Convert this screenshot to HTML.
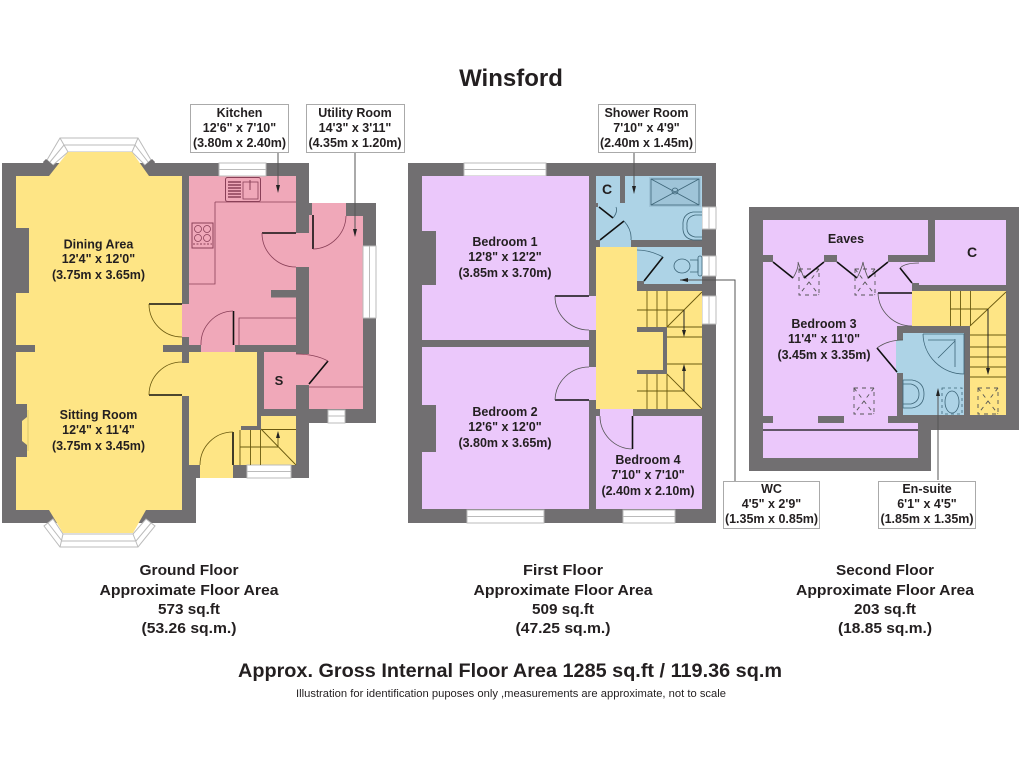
<!DOCTYPE html>
<html><head><meta charset="utf-8"><title>Winsford</title>
<style>
html,body{margin:0;padding:0;background:#fff}
svg{display:block}
text{font-family:"Liberation Sans",sans-serif;font-weight:bold;fill:#231f20;text-anchor:middle;font-size:12.5px}
.f{font-size:15px}
.w{fill:#716f71}
.y{fill:#fee585}.p{fill:#f0a8b9}.v{fill:#ebc8fb}.b{fill:#add3e6}
.win{fill:#fff;stroke:#bbb;stroke-width:1}
.d{stroke:#111;stroke-width:1.6;fill:none}
.a{stroke:#555;stroke-width:.8;fill:none}
.ay{stroke:#6b5a10;stroke-width:.8;fill:none}
.ap{stroke:#8a4058;stroke-width:.8;fill:none}
.s{stroke:#6b5a10;stroke-width:.9;fill:none}
.sk{stroke:#555;stroke-width:.9;fill:none;stroke-dasharray:4 4}
.box{fill:#fff;stroke:#aaa;stroke-width:1}
.l{stroke:#555;stroke-width:1;fill:none}
.fx{stroke:#3d6578;stroke-width:.8;fill:none}
</style></head><body>
<svg width="1024" height="768" viewBox="0 0 1024 768" xmlns="http://www.w3.org/2000/svg">
<rect width="1024" height="768" fill="#fff"/>

<!-- GROUND FLOOR -->
<path class="w" d="M2,163 H309 V203 H376 V423 H309 V478 H196 V523 H2 Z"/>
<!-- bay windows -->
<polygon class="win" points="47,160 60,138 138,138 151,160 145,165 132,152 68,152 53,165"/>
<path d="M50,162 L64,145 H135 L148,162 M60,138 L68,152 M138,138 L132,152" stroke="#bbb" fill="none"/>
<polygon class="w" points="43,162 46,159 55,167 49,176"/><polygon class="w" points="155,162 152,159 143,167 149,176"/>
<polygon class="win" points="44,526 60,547 138,547 155,526 146,519 133,534 63,534 53,519"/>
<path d="M48,523 L62,541 H136 L151,523 M60,547 L63,534 M138,547 L133,534" stroke="#bbb" fill="none"/>
<!-- yellow main -->
<polygon class="y" points="16,176 49,176 68,152 132,152 149,176 182,176 182,510 146,510 133,533 63,533 49,510 16,510"/>
<rect class="w" x="16" y="228" width="13" height="65"/>
<rect class="w" x="16" y="345" width="19" height="7"/>
<rect class="w" x="163" y="345" width="20" height="7"/>
<polygon class="w" points="16,404 27,404 27,417 22,421 22,441 27,445 27,457 16,457"/>
<path d="M28,410 V451" stroke="#d8c56c" fill="none"/>
<!-- kitchen pink -->
<rect class="p" x="189" y="176" width="107" height="169"/>
<rect class="p" x="182" y="304" width="8" height="33"/>
<rect class="p" x="189" y="337" width="12" height="8"/>
<rect class="p" x="201" y="345" width="34" height="7"/>
<rect class="p" x="296" y="233" width="14" height="34"/>
<rect class="win" x="219" y="163" width="47" height="13"/><path d="M219,169.5 H266" stroke="#bbb"/>
<rect class="w" x="271" y="290" width="25" height="7.5"/>
<path class="ap" d="M215,202 H296 M215,202 V284 H189 M239,345 V318 H296"/>
<!-- sink -->
<rect x="225.500" y="177.500" width="35" height="24" rx="2" fill="none" stroke="#8a4058"/>
<path d="M228,182 H241 M228,185 H241 M228,188 H241 M228,191 H241 M228,194 H241 M228,197 H241" stroke="#8a4058" stroke-width="1.4"/>
<rect x="243" y="182" width="15" height="17" fill="none" stroke="#8a4058" stroke-width=".8"/>
<path d="M250,180 V190" stroke="#8a4058"/>
<!-- hob -->
<rect x="192" y="223" width="21" height="25" fill="none" stroke="#8a4058"/>
<circle cx="198" cy="229" r="3.500" class="ap"/><circle cx="207" cy="229" r="3.500" class="ap"/><circle cx="198" cy="238" r="3.500" class="ap"/><circle cx="207" cy="238" r="3.500" class="ap"/>
<path d="M193,244 H212" stroke="#8a4058" stroke-dasharray="2 1.500"/>
<!-- utility -->
<polygon class="p" points="312,203 346,203 346,216 363,216 363,409 309,409 309,215 312,215"/>
<rect class="p" x="264" y="352" width="32" height="57"/>
<rect class="p" x="296" y="354" width="14" height="31"/>
<path class="ap" d="M309,387 H363"/>
<rect class="win" x="363" y="246" width="13" height="72"/><path d="M369.500,246 V318" stroke="#bbb"/>
<rect class="win" x="328" y="410" width="17" height="13"/><path d="M328,416 H345" stroke="#bbb"/>
<!-- hall -->
<rect class="y" x="189" y="352" width="68" height="113"/>
<rect class="y" x="182" y="363" width="8" height="33"/>
<rect class="y" x="200" y="465" width="33" height="13"/>
<rect class="y" x="240" y="430" width="56" height="35"/>
<rect class="y" x="261" y="416" width="35" height="14"/>
<rect class="w" x="241" y="426" width="20" height="4"/>
<rect class="win" x="247" y="465" width="44" height="13"/><path d="M247,471.500 H291" stroke="#bbb"/>
<path class="s" d="M240,430 V465 M250.500,430 V465 M260.500,430 V465 M240,447 H278 M261,429.500 H296 M261,429 L296,465"/>
<path class="s" d="M278,447 V435"/><polygon points="278,431 276,438 280,438" fill="#222"/>
<!-- doors ground -->
<path class="d" d="M149,304 H182 M149,395 H182 M262,233 H296 M313,215 V249 M233.500,311 V345 M233,432 V465 M309,384 L328,361"/>
<path class="ay" d="M149,304 A33,33 0 0 0 182,337 M149,395 A33,33 0 0 1 182,362 M233,432 A33,33 0 0 0 200,465"/>
<path class="ap" d="M262,233 A34,34 0 0 0 296,267 M313,249 A34,34 0 0 0 346,216 M233,311 A33,33 0 0 0 201,345 M296,354 Q315,354 328,361"/>

<!-- FIRST FLOOR -->
<rect class="w" x="408" y="163" width="308" height="360"/>
<rect class="win" x="464" y="163" width="82" height="13"/><path d="M464,169.500 H546" stroke="#bbb"/>
<rect class="win" x="467" y="510" width="77" height="13"/><path d="M467,516.500 H544" stroke="#bbb"/>
<rect class="win" x="623" y="510" width="52" height="13"/><path d="M623,516.500 H675" stroke="#bbb"/>
<rect class="win" x="702" y="207" width="14" height="22"/><path d="M709,207 V229" stroke="#bbb"/>
<rect class="win" x="702" y="256" width="14" height="20"/><path d="M709,256 V276" stroke="#bbb"/>
<rect class="win" x="702" y="296" width="14" height="28"/><path d="M709,296 V324" stroke="#bbb"/>
<rect class="v" x="422" y="176" width="167" height="164"/>
<rect class="v" x="422" y="347" width="167" height="162"/>
<rect class="w" x="422" y="231" width="14" height="54"/>
<rect class="w" x="422" y="405" width="14" height="47"/>
<rect class="v" x="589" y="296" width="8" height="34"/>
<rect class="v" x="589" y="367" width="8" height="33"/>
<!-- shower room -->
<rect class="b" x="596" y="176" width="106" height="64"/>
<rect class="b" x="600" y="240" width="31" height="8"/>
<rect class="w" x="620" y="176" width="5" height="27"/>
<rect class="w" x="596" y="203" width="2" height="4"/>
<rect x="649" y="177" width="52" height="30" fill="#9fc4d8"/>
<rect x="651" y="179" width="48" height="26" class="fx"/>
<path class="fx" d="M651,179 L699,205 M699,179 L651,205"/>
<circle cx="675" cy="191" r="3" class="fx" stroke-width="1.500"/>
<path class="fx" d="M702,212 H693 Q682,214 683,226 Q682,238 693,240 H702 M702,215 H695 Q686,217 687,226 Q686,235 695,237 H702"/>
<!-- wc -->
<rect class="b" x="637" y="247" width="65" height="37"/>
<rect class="w" x="637" y="281" width="7" height="4"/>
<ellipse class="fx" cx="682" cy="266" rx="8" ry="7"/><rect x="698" y="256" width="4" height="20" rx="2" class="fx"/>
<path class="fx" d="M690,260 H698 V272 H690"/>
<!-- landing -->
<rect class="y" x="596" y="247" width="41" height="162"/>
<rect class="y" x="637" y="331" width="26" height="40"/>
<!-- stairs -->
<rect class="y" x="637" y="291" width="65" height="36"/>
<rect class="y" x="667" y="327" width="35" height="82"/>
<rect class="y" x="637" y="374" width="30" height="35"/>
<rect class="w" x="637" y="327" width="30" height="5"/>
<rect class="w" x="663" y="327" width="4" height="47"/>
<rect class="w" x="637" y="370" width="30" height="4"/>
<path class="s" d="M647,291 V327 M657,291 V327 M667,291 V327 M637,310 H684 M667,327 L702,292 M667,327 H702 M667,337 H702 M667,364 H702 M647,374 V409 M657,374 V409 M667,374 V409 M637,391 H684 M667,374 L702,409"/>
<path d="M684,310 V330 M684,391 V370" stroke="#222" fill="none"/>
<polygon points="684,337 682,330 686,330" fill="#222"/><polygon points="684,364 682,371 686,371" fill="#222"/>
<!-- bed4 -->
<rect class="v" x="596" y="416" width="106" height="93"/>
<rect class="v" x="600" y="409" width="33" height="8"/>
<!-- doors first -->
<path class="d" d="M555,296 H589 M555,400 H589 M632.500,416 V449 M599,207 L613,218 M600,240 L624,221 M644,281 L663,257"/>
<path class="a" d="M555,296 A34,34 0 0 0 589,330 M555,400 A34,34 0 0 1 589,367 M600,416 A33,33 0 0 0 632,449"/>
<path class="fx" d="M616,207 Q618,212 613,218 M624,221 Q632,230 631,240 M663,257 Q650,250 637,250"/>

<!-- SECOND FLOOR -->
<path class="w" d="M749,207 H1019 V430 H931 V471 H749 Z"/>
<rect class="v" x="763" y="220" width="165" height="35"/>
<polygon class="v" points="935,220 1006,220 1006,285 912,285 912,283 900,262 935,262"/>
<polygon class="v" points="763,262 773,262 773,255 888,255 888,262 900,262 912,283 912,326 897,326 897,416 763,416"/>
<rect class="w" x="763" y="255" width="10" height="7"/>
<rect class="w" x="824" y="255" width="13" height="7"/>
<rect class="w" x="888" y="255" width="47" height="7"/>
<rect class="w" x="912" y="283" width="7" height="10"/>
<rect class="v" x="763" y="415" width="134" height="8"/>
<rect class="w" x="763" y="416" width="10" height="7"/>
<rect class="w" x="818" y="416" width="26" height="7"/>
<rect class="w" x="888" y="416" width="15" height="7"/>
<rect class="v" x="763" y="423" width="155" height="35"/>
<path d="M763,430 H918" stroke="#111" stroke-width="1.200"/>
<rect class="y" x="912" y="291" width="94" height="35"/>
<rect class="y" x="970" y="326" width="36" height="89"/>
<rect class="b" x="903" y="333" width="61" height="82"/>
<rect class="b" x="896" y="340" width="8" height="33"/>
<path class="fx" d="M923,334 H964 V374 A41,41 0 0 1 923,334 M928,340 H955 V367 M955,339 V367 M938,358 L955,341"/>
<path class="fx" d="M903,380 H912 Q924,382 924,394 Q924,406 912,408 H903 V380 M903,384 H911 Q919,386 919,394 Q919,402 911,404 H903"/>
<ellipse class="fx" cx="952" cy="402" rx="7" ry="11"/>
<rect x="942" y="388" width="20" height="26" class="fx" stroke-dasharray="3 3"/>
<path class="s" d="M950.500,291 V326 M960.500,291 V326 M970.500,291 V326 M950,309 H988 M970,326 L1006,292 M970,335 H1006 M970,347 H1006 M970,357 H1006 M970,367 H1006 M970,377 H1006"/>
<path d="M988,309 V370" stroke="#222" fill="none"/><polygon points="988,375 986,368 990,368" fill="#222"/>
<!-- skylights -->
<rect x="799" y="269" width="20" height="26" class="sk"/><path d="M799,269 L819,295 M819,269 L799,295" class="sk"/>
<rect x="855" y="269" width="20" height="26" class="sk"/><path d="M855,269 L875,295 M875,269 L855,295" class="sk"/>
<rect x="854" y="388" width="20" height="26" class="sk"/><path d="M854,388 L874,414 M874,388 L854,414" class="sk"/>
<rect x="978" y="388" width="20" height="26" class="sk"/><path d="M978,388 L998,414 M998,388 L978,414" class="sk"/>
<!-- doors second -->
<path class="d" d="M773,262 L793,278 M804,278 L824,262 M837,262 L857,278 M868,278 L888,262 M878,293 H912 M877,348 L897,372 M900,268 L912,283"/>
<path class="a" d="M878,293 A34,34 0 0 0 912,326 M877,348 Q888,340 903,340 M900,268 Q905,263 919,263 M793,278 Q799,268 798,262 Q800,268 804,278 M857,278 Q862,268 863,262 Q864,268 868,278"/>

<!-- LEADERS + BOXES -->
<path class="l" d="M278,153 V186 M355,153 V231 M634,152 V188 M680,280 H735 V481 M938,480 V394"/>
<polygon points="278,193 276,185 280,185" fill="#222"/>
<polygon points="355,237 353,229 357,229" fill="#222"/>
<polygon points="634,194 632,186 636,186" fill="#222"/>
<polygon points="680,280 688,278 688,282" fill="#222"/>
<polygon points="938,388 936,396 940,396" fill="#222"/>

<rect class="box" x="190.500" y="104.500" width="98" height="48"/>
<rect class="box" x="306.500" y="104.500" width="98" height="48"/>
<rect class="box" x="598.500" y="104.500" width="97" height="48"/>
<rect class="box" x="723.500" y="481.500" width="96" height="47"/>
<rect class="box" x="878.500" y="481.500" width="97" height="47"/>

<!-- TEXT -->
<text x="511" y="86" style="font-size:24px">Winsford</text>

<text x="239.500" y="117">Kitchen</text><text x="239.500" y="132">12'6" x 7'10"</text><text x="239.500" y="147">(3.80m x 2.40m)</text>
<text x="355" y="117">Utility Room</text><text x="355" y="132">14'3" x 3'11"</text><text x="355" y="147">(4.35m x 1.20m)</text>
<text x="646.500" y="117">Shower Room</text><text x="646.500" y="132">7'10" x 4'9"</text><text x="646.500" y="147">(2.40m x 1.45m)</text>
<text x="771.500" y="493">WC</text><text x="771.500" y="508">4'5" x 2'9"</text><text x="771.500" y="523">(1.35m x 0.85m)</text>
<text x="927" y="493">En-suite</text><text x="927" y="508">6'1" x 4'5"</text><text x="927" y="523">(1.85m x 1.35m)</text>

<text x="98.500" y="248.500">Dining Area</text><text x="98.500" y="263">12'4" x 12'0"</text><text x="98.500" y="279">(3.75m x 3.65m)</text>
<text x="98.500" y="419">Sitting Room</text><text x="98.500" y="434">12'4" x 11'4"</text><text x="98.500" y="450">(3.75m x 3.45m)</text>
<text x="505" y="246">Bedroom 1</text><text x="505" y="261">12'8" x 12'2"</text><text x="505" y="277">(3.85m x 3.70m)</text>
<text x="505" y="416">Bedroom 2</text><text x="505" y="431">12'6" x 12'0"</text><text x="505" y="447">(3.80m x 3.65m)</text>
<text x="648" y="464">Bedroom 4</text><text x="648" y="479">7'10" x 7'10"</text><text x="648" y="495">(2.40m x 2.10m)</text>
<text x="824" y="328">Bedroom 3</text><text x="824" y="343">11'4" x 11'0"</text><text x="824" y="359">(3.45m x 3.35m)</text>
<text x="846" y="243">Eaves</text>
<text x="972" y="257" style="font-size:14px">C</text>
<text x="607" y="194" style="font-size:14px">C</text>
<text x="279" y="385" style="font-size:13px">S</text>

<text class="f" x="189" y="575" textLength="99" lengthAdjust="spacingAndGlyphs">Ground Floor</text>
<text class="f" x="189" y="595" textLength="179" lengthAdjust="spacingAndGlyphs">Approximate Floor Area</text>
<text class="f" x="189" y="614" textLength="62" lengthAdjust="spacingAndGlyphs">573 sq.ft</text>
<text class="f" x="189" y="633" textLength="95" lengthAdjust="spacingAndGlyphs">(53.26 sq.m.)</text>
<text class="f" x="563" y="575" textLength="80" lengthAdjust="spacingAndGlyphs">First Floor</text>
<text class="f" x="563" y="595" textLength="179" lengthAdjust="spacingAndGlyphs">Approximate Floor Area</text>
<text class="f" x="563" y="614" textLength="62" lengthAdjust="spacingAndGlyphs">509 sq.ft</text>
<text class="f" x="563" y="633" textLength="95" lengthAdjust="spacingAndGlyphs">(47.25 sq.m.)</text>
<text class="f" x="885" y="575" textLength="98" lengthAdjust="spacingAndGlyphs">Second Floor</text>
<text class="f" x="885" y="595" textLength="178" lengthAdjust="spacingAndGlyphs">Approximate Floor Area</text>
<text class="f" x="885" y="614" textLength="62" lengthAdjust="spacingAndGlyphs">203 sq.ft</text>
<text class="f" x="885" y="633" textLength="94" lengthAdjust="spacingAndGlyphs">(18.85 sq.m.)</text>
<text x="510" y="677" style="font-size:19px" textLength="544" lengthAdjust="spacingAndGlyphs">Approx. Gross Internal Floor Area 1285 sq.ft / 119.36 sq.m</text>
<text x="511" y="697" style="font-size:11px;font-weight:normal" textLength="430" lengthAdjust="spacingAndGlyphs">Illustration for identification puposes only ,measurements are approximate, not to scale</text>
</svg>
</body></html>
